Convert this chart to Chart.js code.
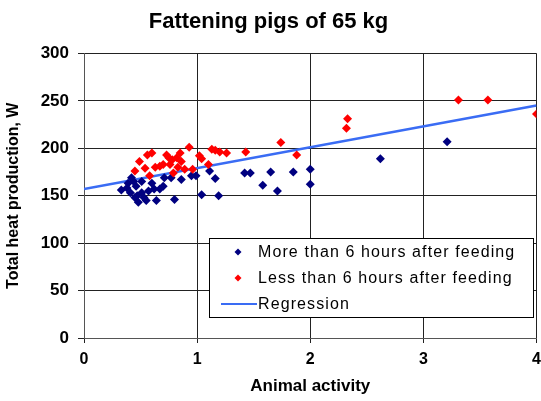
<!DOCTYPE html>
<html>
<head>
<meta charset="utf-8">
<script src="https://cdn.jsdelivr.net/npm/chart.js@4/dist/chart.umd.min.js"></script>
<style>
  html, body { margin: 0; padding: 0; background: #fff; }
  #wrap { width: 541px; height: 401px; }
</style>
</head>
<body>
<div id="wrap"><canvas id="myChart1" width="541" height="401"></canvas></div>
<script>
const titleText = "Fattening pigs of 65 kg";
const xAxisTitle = "Animal activity";
const yAxisTitle = "Total heat production, W";

const moreLabel = "More than 6 hours after feeding";
const lessLabel = "Less than 6 hours after feeding";
const regLabel = "Regression";

// more than 6 hours after feeding (x = activity, y = W)
const moreX = [0.33, 0.38, 0.39, 0.41, 0.42, 0.44, 0.45, 0.46, 0.47, 0.48, 0.51, 0.51, 0.53, 0.55, 0.57, 0.60, 0.62, 0.64, 0.67, 0.70, 0.71, 0.77, 0.80, 0.86, 0.95, 0.99, 1.04, 1.11, 1.16, 1.19, 1.42, 1.47, 1.58, 1.65, 1.71, 1.85, 2.00, 2.00, 2.62, 3.21];
const moreY = [156, 158, 163, 153, 169, 165, 148, 160, 150, 143, 165, 153, 148, 145, 155, 163, 157, 145, 157, 160, 169, 169, 146, 167, 171, 171, 151, 176, 168, 150, 174, 174, 161, 175, 155, 175, 178, 162, 189, 207];

// less than 6 hours after feeding
const lessX = [0.45, 0.49, 0.54, 0.56, 0.58, 0.60, 0.63, 0.67, 0.70, 0.73, 0.75, 0.76, 0.78, 0.79, 0.82, 0.83, 0.85, 0.86, 0.89, 0.93, 0.96, 1.02, 1.04, 1.10, 1.13, 1.16, 1.20, 1.26, 1.43, 1.74, 1.88, 2.32, 2.33, 3.31, 3.57, 4.00];
const lessY = [176, 186, 179, 193, 171, 195, 180, 181, 183, 193, 190, 183, 188, 174, 190, 180, 195, 186, 178, 201, 178, 192, 189, 183, 199, 198, 196, 195, 196, 206, 193, 221, 231, 251, 251, 236];

// regression line end points
const regX = [0, 4];
const regY = [157, 245];

const yTicks = [0, 50, 100, 150, 200, 250, 300];
const xTicks = [0, 1, 2, 3, 4];

const toPoints = function (xs, ys) {
	return xs.map(function (x, i) {
		return { x: x, y: ys[i] };
	});
};

// legend box drawn inside the plot area
const boxLegend = {
	id: "boxLegend",
	afterDraw: function (chart) {
		const ctx = chart.ctx;
		const left = 209, top = 238, w = 324, h = 79;
		ctx.save();
		ctx.fillStyle = "#fff";
		ctx.fillRect(left, top, w, h);
		ctx.strokeStyle = "#000";
		ctx.lineWidth = 1;
		ctx.strokeRect(left + 0.5, top + 0.5, w, h);
		ctx.font = "16px 'Liberation Sans', Arial, sans-serif";
		ctx.letterSpacing = "1.1px";
		ctx.textBaseline = "middle";
		const rows = [
			{ text: moreLabel, color: "#000080", kind: "point" },
			{ text: lessLabel, color: "#ff0000", kind: "point" },
			{ text: regLabel, color: "#3a6cf4", kind: "line" },
		];
		rows.forEach(function (r, i) {
			const cy = top + 14 + i * 26;
			if (r.kind === "point") {
				ctx.fillStyle = r.color;
				ctx.beginPath();
				ctx.moveTo(238, cy - 3.5);
				ctx.lineTo(241.5, cy);
				ctx.lineTo(238, cy + 3.5);
				ctx.lineTo(234.5, cy);
				ctx.closePath();
				ctx.fill();
			} else {
				ctx.strokeStyle = r.color;
				ctx.lineWidth = 2;
				ctx.beginPath();
				ctx.moveTo(221, cy);
				ctx.lineTo(257, cy);
				ctx.stroke();
			}
			ctx.fillStyle = "#000";
			ctx.fillText(r.text, 258, cy + 1);
		});
		ctx.restore();
	},
};

const ctx = document.getElementById("myChart1").getContext("2d");
const myChart = new Chart(ctx, {
	type: "scatter",
	data: {
		datasets: [
			{
				label: moreLabel,
				data: toPoints(moreX, moreY),
				backgroundColor: "#000080",
				borderColor: "#000080",
				pointStyle: "rectRot",
				pointRadius: 4.5,
				borderWidth: 0,
				order: 2,
			},
			{
				label: lessLabel,
				data: toPoints(lessX, lessY),
				backgroundColor: "#ff0000",
				borderColor: "#ff0000",
				pointStyle: "rectRot",
				pointRadius: 4.5,
				borderWidth: 0,
				order: 1,
			},
			{
				label: regLabel,
				type: "line",
				data: toPoints(regX, regY),
				borderColor: "#3a6cf4",
				borderWidth: 2.5,
				pointRadius: 0,
				fill: false,
				order: 3,
			},
		],
	},
	options: {
		responsive: false,
		animation: false,
		layout: { padding: { right: 4, left: 0, bottom: 0, top: 0 } },
		plugins: {
			legend: { display: false },
			tooltip: { enabled: false },
			title: {
				display: true,
				text: titleText,
				color: "#000",
				font: { family: "'Liberation Sans', Arial, sans-serif", size: 22, weight: "bold" },
				padding: { top: 9, bottom: 18 },
			},
		},
		scales: {
			x: {
				type: "linear",
				min: 0,
				max: 4,
				afterBuildTicks: function (axis) {
					axis.ticks = xTicks.map(function (v) { return { value: v }; });
				},
				afterFit: function (axis) {
					axis.height = 63;
					axis.paddingRight = 0;
					axis.paddingLeft = 0;
				},
				grid: { color: "#222", lineWidth: 1, tickLength: 5 },
				border: { color: "#555", width: 1 },
				ticks: {
					color: "#000",
					padding: 7,
					font: { family: "'Liberation Sans', Arial, sans-serif", size: 16, weight: "bold" },
				},
				title: {
					display: true,
					text: xAxisTitle,
					color: "#000",
					padding: { top: 2 },
					font: { family: "'Liberation Sans', Arial, sans-serif", size: 17, weight: "bold" },
				},
			},
			y: {
				type: "linear",
				min: 0,
				max: 300,
				afterBuildTicks: function (axis) {
					axis.ticks = yTicks.map(function (v) { return { value: v }; });
				},
				afterFit: function (axis) { axis.width = 84; },
				grid: { color: "#222", lineWidth: 1, tickLength: 6 },
				border: { color: "#555", width: 1 },
				ticks: {
					color: "#000",
					padding: 9,
					font: { family: "'Liberation Sans', Arial, sans-serif", size: 17, weight: "bold" },
				},
				title: {
					display: true,
					text: yAxisTitle,
					color: "#000",
					padding: { bottom: 4 },
					font: { family: "'Liberation Sans', Arial, sans-serif", size: 16, weight: "bold" },
				},
			},
		},
	},
	plugins: [boxLegend],
});
</script>
</body>
</html>
